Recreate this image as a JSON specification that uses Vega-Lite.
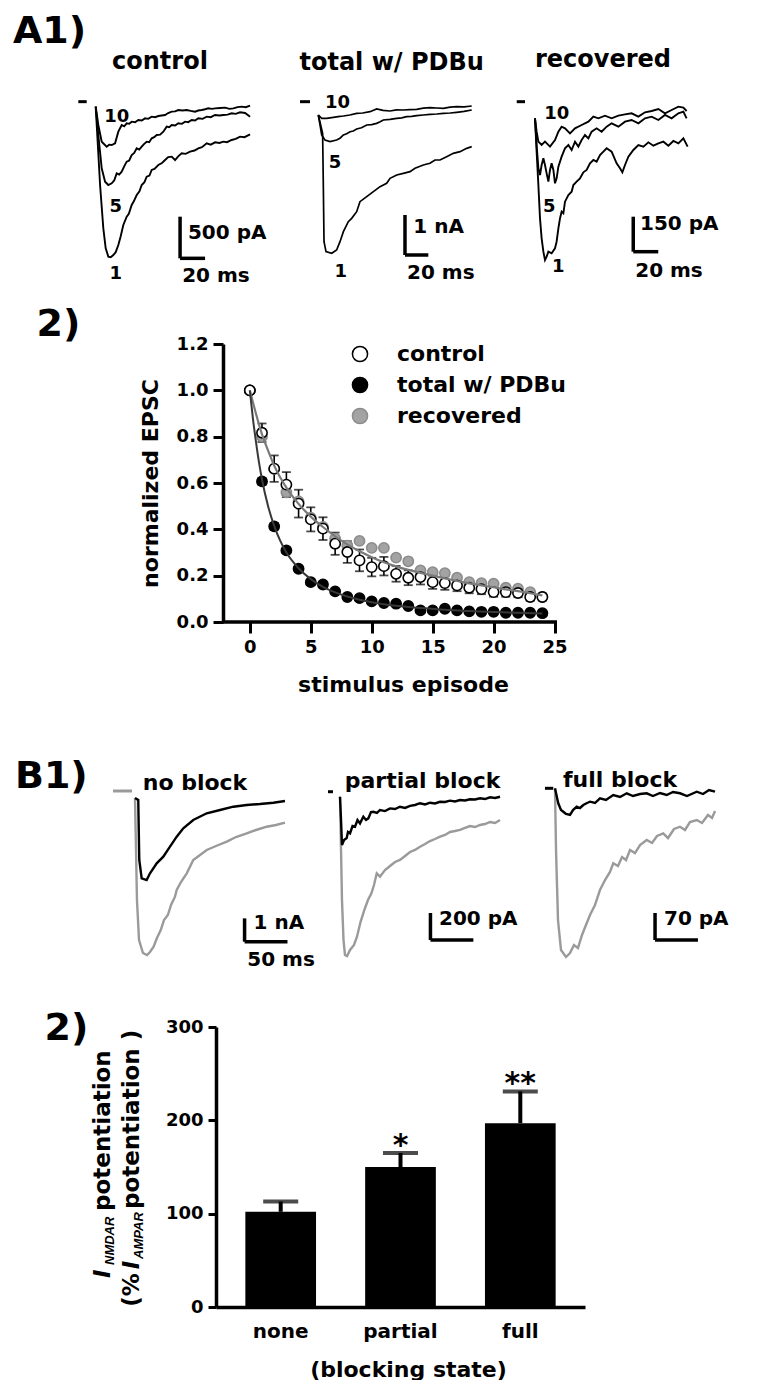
{
"$schema": "https://vega.github.io/schema/vega-lite/v6.json",
"padding": 0,
"background": "white",
"spacing": 0,
"bounds": "flush",
"align": "each",
"columns": 3,
"config": {
  "view": {"stroke": null},
  "font": "DejaVu Sans",
  "text": {"font": "DejaVu Sans", "fontWeight": "bold", "color": "black"},
  "axis": {"domainColor": "black", "domainWidth": 3.5, "tickColor": "black", "tickWidth": 3, "tickSize": 10, "grid": false,
           "labelFont": "DejaVu Sans", "labelFontWeight": "bold", "labelColor": "black", "labelFontSize": 18,
           "titleFont": "DejaVu Sans", "titleFontWeight": "bold", "titleColor": "black", "titleFontSize": 22}
},
"datasets": {
  "ctrl": [
    {"trace":"1","t":0,"I":-44},{"trace":"1","t":3.5,"I":-984},{"trace":"1","t":6.1,"I":-1504},{"trace":"1","t":8,"I":-1744},{"trace":"1","t":10.1,"I":-1844},{"trace":"1","t":12,"I":-1850},{"trace":"1","t":14.1,"I":-1824},{"trace":"1","t":16,"I":-1790},{"trace":"1","t":18.1,"I":-1704},{"trace":"1","t":20,"I":-1600},{"trace":"1","t":22.1,"I":-1464},{"trace":"1","t":24.8,"I":-1364},{"trace":"1","t":26.5,"I":-1330},{"trace":"1","t":28.8,"I":-1224},{"trace":"1","t":30.5,"I":-1180},{"trace":"1","t":32.8,"I":-1104},{"trace":"1","t":35,"I":-1060},{"trace":"1","t":36.8,"I":-984},{"trace":"1","t":39,"I":-950},{"trace":"1","t":40.8,"I":-884},{"trace":"1","t":43,"I":-870},{"trace":"1","t":44.8,"I":-804},{"trace":"1","t":47,"I":-790},{"trace":"1","t":50.1,"I":-744},{"trace":"1","t":53,"I":-720},{"trace":"1","t":55.5,"I":-684},{"trace":"1","t":58,"I":-650},{"trace":"1","t":60.8,"I":-644},{"trace":"1","t":63.5,"I":-684},{"trace":"1","t":66,"I":-640},{"trace":"1","t":68.8,"I":-604},{"trace":"1","t":72,"I":-610},{"trace":"1","t":75.5,"I":-584},{"trace":"1","t":79,"I":-570},{"trace":"1","t":82.1,"I":-544},{"trace":"1","t":85,"I":-530},{"trace":"1","t":88.8,"I":-484},{"trace":"1","t":92,"I":-500},{"trace":"1","t":95.5,"I":-472},{"trace":"1","t":99,"I":-480},{"trace":"1","t":102.1,"I":-464},{"trace":"1","t":105,"I":-470},{"trace":"1","t":108.8,"I":-444},{"trace":"1","t":112,"I":-430},{"trace":"1","t":115.5,"I":-404},{"trace":"1","t":119,"I":-410},{"trace":"1","t":123.5,"I":-376},
    {"trace":"5","t":0,"I":-44},{"trace":"5","t":2.1,"I":-384},{"trace":"5","t":4.8,"I":-784},{"trace":"5","t":7.5,"I":-944},{"trace":"5","t":10.1,"I":-984},{"trace":"5","t":12.8,"I":-964},{"trace":"5","t":14.8,"I":-930},{"trace":"5","t":16.8,"I":-844},{"trace":"5","t":18.8,"I":-860},{"trace":"5","t":20.8,"I":-824},{"trace":"5","t":22.8,"I":-760},{"trace":"5","t":24.8,"I":-704},{"trace":"5","t":26.8,"I":-690},{"trace":"5","t":28.8,"I":-624},{"trace":"5","t":30.8,"I":-600},{"trace":"5","t":32.8,"I":-544},{"trace":"5","t":34.8,"I":-560},{"trace":"5","t":36.8,"I":-524},{"trace":"5","t":38.8,"I":-490},{"trace":"5","t":40.8,"I":-464},{"trace":"5","t":42.8,"I":-470},{"trace":"5","t":44.8,"I":-424},{"trace":"5","t":46.8,"I":-410},{"trace":"5","t":48.8,"I":-384},{"trace":"5","t":51.5,"I":-380},{"trace":"5","t":54.1,"I":-344},{"trace":"5","t":56.8,"I":-284},{"trace":"5","t":58.8,"I":-290},{"trace":"5","t":60.8,"I":-264},{"trace":"5","t":63.5,"I":-270},{"trace":"5","t":66.1,"I":-244},{"trace":"5","t":69,"I":-250},{"trace":"5","t":71.5,"I":-224},{"trace":"5","t":74,"I":-230},{"trace":"5","t":76.8,"I":-204},{"trace":"5","t":79.5,"I":-210},{"trace":"5","t":82.1,"I":-184},{"trace":"5","t":85.5,"I":-190},{"trace":"5","t":88.8,"I":-164},{"trace":"5","t":92,"I":-170},{"trace":"5","t":95.5,"I":-144},{"trace":"5","t":99,"I":-150},{"trace":"5","t":102.1,"I":-144},{"trace":"5","t":105.5,"I":-140},{"trace":"5","t":108.8,"I":-124},{"trace":"5","t":112,"I":-130},{"trace":"5","t":115.5,"I":-112},{"trace":"5","t":119.5,"I":-120},{"trace":"5","t":123.5,"I":-164},
    {"trace":"10","t":0,"I":-44},{"trace":"10","t":2.1,"I":-264},{"trace":"10","t":4.8,"I":-464},{"trace":"10","t":8.8,"I":-524},{"trace":"10","t":10.8,"I":-500},{"trace":"10","t":12.8,"I":-504},{"trace":"10","t":15.5,"I":-484},{"trace":"10","t":18.1,"I":-344},{"trace":"10","t":20.8,"I":-264},{"trace":"10","t":22.8,"I":-280},{"trace":"10","t":24.8,"I":-244},{"trace":"10","t":26.8,"I":-250},{"trace":"10","t":28.8,"I":-224},{"trace":"10","t":31.5,"I":-230},{"trace":"10","t":34.1,"I":-204},{"trace":"10","t":36.8,"I":-210},{"trace":"10","t":39.5,"I":-184},{"trace":"10","t":42,"I":-190},{"trace":"10","t":44.8,"I":-164},{"trace":"10","t":47.5,"I":-170},{"trace":"10","t":50.1,"I":-156},{"trace":"10","t":52.8,"I":-150},{"trace":"10","t":55.5,"I":-144},{"trace":"10","t":58,"I":-120},{"trace":"10","t":60.8,"I":-104},{"trace":"10","t":63.5,"I":-100},{"trace":"10","t":66.1,"I":-84},{"trace":"10","t":69.5,"I":-90},{"trace":"10","t":72.8,"I":-84},{"trace":"10","t":76,"I":-95},{"trace":"10","t":79.5,"I":-104},{"trace":"10","t":82,"I":-90},{"trace":"10","t":84.8,"I":-84},{"trace":"10","t":87.5,"I":-75},{"trace":"10","t":90.1,"I":-64},{"trace":"10","t":93,"I":-70},{"trace":"10","t":95.5,"I":-64},{"trace":"10","t":99.5,"I":-60},{"trace":"10","t":103.5,"I":-56},{"trace":"10","t":107,"I":-70},{"trace":"10","t":110.1,"I":-64},{"trace":"10","t":113.5,"I":-50},{"trace":"10","t":116.8,"I":-44},{"trace":"10","t":120,"I":-50},{"trace":"10","t":123.5,"I":-32}
  ],
  "pdbu": [
    {"trace":"10","t":0,"I":-300},{"trace":"10","t":2.9,"I":-383},{"trace":"10","t":7.2,"I":-383},{"trace":"10","t":12.9,"I":-358},{"trace":"10","t":17,"I":-340},{"trace":"10","t":21.5,"I":-325},{"trace":"10","t":27,"I":-300},{"trace":"10","t":32.9,"I":-258},{"trace":"10","t":38,"I":-250},{"trace":"10","t":44.3,"I":-217},{"trace":"10","t":50,"I":-150},{"trace":"10","t":55.5,"I":-185},{"trace":"10","t":61.5,"I":-200},{"trace":"10","t":67,"I":-170},{"trace":"10","t":72.9,"I":-175},{"trace":"10","t":78.5,"I":-165},{"trace":"10","t":84.3,"I":-158},{"trace":"10","t":90,"I":-130},{"trace":"10","t":95.7,"I":-117},{"trace":"10","t":101.5,"I":-125},{"trace":"10","t":107.2,"I":-133},{"trace":"10","t":113,"I":-105},{"trace":"10","t":118.6,"I":-92},{"trace":"10","t":125,"I":-95},{"trace":"10","t":131.5,"I":-75},
    {"trace":"5","t":0,"I":-300},{"trace":"5","t":1.5,"I":-550},{"trace":"5","t":2.9,"I":-800},{"trace":"5","t":5.7,"I":-925},{"trace":"5","t":10,"I":-967},{"trace":"5","t":15.7,"I":-925},{"trace":"5","t":18.6,"I":-880},{"trace":"5","t":21.5,"I":-800},{"trace":"5","t":24.3,"I":-770},{"trace":"5","t":27.2,"I":-717},{"trace":"5","t":30,"I":-700},{"trace":"5","t":32.9,"I":-650},{"trace":"5","t":37,"I":-620},{"trace":"5","t":41.5,"I":-550},{"trace":"5","t":45.7,"I":-540},{"trace":"5","t":50,"I":-508},{"trace":"5","t":53,"I":-470},{"trace":"5","t":55.7,"I":-425},{"trace":"5","t":61.5,"I":-410},{"trace":"5","t":67.2,"I":-383},{"trace":"5","t":71.5,"I":-370},{"trace":"5","t":75.7,"I":-342},{"trace":"5","t":80,"I":-335},{"trace":"5","t":84.3,"I":-317},{"trace":"5","t":90,"I":-300},{"trace":"5","t":95.7,"I":-283},{"trace":"5","t":101.5,"I":-275},{"trace":"5","t":107.2,"I":-258},{"trace":"5","t":113,"I":-250},{"trace":"5","t":118.6,"I":-233},{"trace":"5","t":125,"I":-210},{"trace":"5","t":131.5,"I":-175},
    {"trace":"1","t":0,"I":-300},{"trace":"1","t":3.7,"I":-758},{"trace":"1","t":4.3,"I":-2050},{"trace":"1","t":4.9,"I":-3467},{"trace":"1","t":6.6,"I":-3717},{"trace":"1","t":11.5,"I":-3758},{"trace":"1","t":15.7,"I":-3675},{"trace":"1","t":18.6,"I":-3467},{"trace":"1","t":21.5,"I":-3217},{"trace":"1","t":25.7,"I":-2967},{"trace":"1","t":28.6,"I":-2883},{"trace":"1","t":32.9,"I":-2717},{"trace":"1","t":35.7,"I":-2467},{"trace":"1","t":41.5,"I":-2342},{"trace":"1","t":47.2,"I":-2217},{"trace":"1","t":52.9,"I":-2092},{"trace":"1","t":58.6,"I":-2008},{"trace":"1","t":61.5,"I":-1883},{"trace":"1","t":67.2,"I":-1800},{"trace":"1","t":72.9,"I":-1758},{"trace":"1","t":78.6,"I":-1717},{"trace":"1","t":82.9,"I":-1633},{"trace":"1","t":90,"I":-1550},{"trace":"1","t":95.7,"I":-1508},{"trace":"1","t":100,"I":-1425},{"trace":"1","t":104.3,"I":-1425},{"trace":"1","t":110,"I":-1342},{"trace":"1","t":115.7,"I":-1258},{"trace":"1","t":121.5,"I":-1217},{"trace":"1","t":127.2,"I":-1133},{"trace":"1","t":131.5,"I":-1092}
  ],
  "recov": [
    {"trace":"1","t":0,"I":-65.7},{"trace":"1","t":1.3,"I":-208.6},{"trace":"1","t":2.7,"I":-351.4},{"trace":"1","t":4,"I":-494.3},{"trace":"1","t":5.3,"I":-580},{"trace":"1","t":6.7,"I":-637.1},{"trace":"1","t":8,"I":-672.9},{"trace":"1","t":9.3,"I":-658.6},{"trace":"1","t":10.7,"I":-637.1},{"trace":"1","t":13.3,"I":-644.3},{"trace":"1","t":16,"I":-622.9},{"trace":"1","t":17.3,"I":-594.3},{"trace":"1","t":18.7,"I":-537.1},{"trace":"1","t":20,"I":-494.3},{"trace":"1","t":21.3,"I":-465.7},{"trace":"1","t":22.7,"I":-472.9},{"trace":"1","t":24,"I":-422.9},{"trace":"1","t":26.7,"I":-394.3},{"trace":"1","t":29.3,"I":-380},{"trace":"1","t":30.7,"I":-351.4},{"trace":"1","t":33.3,"I":-337.1},{"trace":"1","t":36,"I":-322.9},{"trace":"1","t":38.7,"I":-297.1},{"trace":"1","t":41.3,"I":-287.1},{"trace":"1","t":44,"I":-258.6},{"trace":"1","t":46.7,"I":-244.3},{"trace":"1","t":49.3,"I":-251.4},{"trace":"1","t":52,"I":-222.9},{"trace":"1","t":54.7,"I":-208.6},{"trace":"1","t":57.3,"I":-194.3},{"trace":"1","t":61.3,"I":-208.6},{"trace":"1","t":65.3,"I":-258.6},{"trace":"1","t":68,"I":-280},{"trace":"1","t":69.9,"I":-297.1},{"trace":"1","t":72,"I":-265.7},{"trace":"1","t":74.7,"I":-230},{"trace":"1","t":78.7,"I":-201.4},{"trace":"1","t":82.7,"I":-180},{"trace":"1","t":86.7,"I":-187.1},{"trace":"1","t":90.7,"I":-168.6},{"trace":"1","t":94.7,"I":-182.9},{"trace":"1","t":98.7,"I":-172.9},{"trace":"1","t":102.7,"I":-165.7},{"trace":"1","t":106.7,"I":-182.9},{"trace":"1","t":110.7,"I":-162.9},{"trace":"1","t":114.7,"I":-172.9},{"trace":"1","t":118.7,"I":-151.4},{"trace":"1","t":122.1,"I":-187.1},
    {"trace":"5","t":0,"I":-65.7},{"trace":"5","t":1.3,"I":-180},{"trace":"5","t":2.7,"I":-280},{"trace":"5","t":4,"I":-308.6},{"trace":"5","t":5.3,"I":-265.7},{"trace":"5","t":6.7,"I":-237.1},{"trace":"5","t":8,"I":-265.7},{"trace":"5","t":9.3,"I":-301.4},{"trace":"5","t":10.7,"I":-337.1},{"trace":"5","t":12,"I":-287.1},{"trace":"5","t":13.3,"I":-258.6},{"trace":"5","t":14.7,"I":-287.1},{"trace":"5","t":16,"I":-344.3},{"trace":"5","t":17.3,"I":-322.9},{"trace":"5","t":18.7,"I":-272.9},{"trace":"5","t":21.3,"I":-230},{"trace":"5","t":24,"I":-194.3},{"trace":"5","t":26.7,"I":-180},{"trace":"5","t":29.3,"I":-201.4},{"trace":"5","t":32,"I":-165.7},{"trace":"5","t":34.7,"I":-187.1},{"trace":"5","t":37.3,"I":-158.6},{"trace":"5","t":40,"I":-137.1},{"trace":"5","t":42.7,"I":-151.4},{"trace":"5","t":45.3,"I":-122.9},{"trace":"5","t":49.3,"I":-108.6},{"trace":"5","t":53.3,"I":-122.9},{"trace":"5","t":57.3,"I":-101.4},{"trace":"5","t":61.3,"I":-87.1},{"trace":"5","t":66.7,"I":-101.4},{"trace":"5","t":72,"I":-80},{"trace":"5","t":77.3,"I":-72.9},{"trace":"5","t":82.7,"I":-87.1},{"trace":"5","t":88,"I":-65.7},{"trace":"5","t":93.3,"I":-58.6},{"trace":"5","t":98.7,"I":-72.9},{"trace":"5","t":104,"I":-51.4},{"trace":"5","t":109.3,"I":-65.7},{"trace":"5","t":114.7,"I":-44.3},{"trace":"5","t":118.7,"I":-37.1},{"trace":"5","t":121.3,"I":-65.7},
    {"trace":"10","t":0,"I":-65.7},{"trace":"10","t":1.3,"I":-122.9},{"trace":"10","t":2.7,"I":-165.7},{"trace":"10","t":5.3,"I":-180},{"trace":"10","t":8,"I":-165.7},{"trace":"10","t":12,"I":-187.1},{"trace":"10","t":16,"I":-158.6},{"trace":"10","t":18.7,"I":-122.9},{"trace":"10","t":21.3,"I":-101.4},{"trace":"10","t":24,"I":-108.6},{"trace":"10","t":28,"I":-130},{"trace":"10","t":32,"I":-108.6},{"trace":"10","t":37.3,"I":-94.3},{"trace":"10","t":42.7,"I":-80},{"trace":"10","t":46.7,"I":-58.6},{"trace":"10","t":50.7,"I":-65.7},{"trace":"10","t":56,"I":-54.3},{"trace":"10","t":61.3,"I":-65.7},{"trace":"10","t":66.7,"I":-54.3},{"trace":"10","t":72,"I":-48.6},{"trace":"10","t":77.3,"I":-44.3},{"trace":"10","t":82.7,"I":-58.6},{"trace":"10","t":88,"I":-40},{"trace":"10","t":93.3,"I":-34.3},{"trace":"10","t":98.7,"I":-25.7},{"trace":"10","t":104,"I":-44.3},{"trace":"10","t":109.3,"I":-30},{"trace":"10","t":114.7,"I":-15.7},{"trace":"10","t":118.7,"I":-20},{"trace":"10","t":121.3,"I":-34.3}
  ],
  "nob": [
    {"sweep":"1","t":0,"I":-129},{"sweep":"1","t":1.2,"I":-2360},{"sweep":"1","t":2.3,"I":-4505},{"sweep":"1","t":4.7,"I":-6221},{"sweep":"1","t":9.3,"I":-6778},{"sweep":"1","t":14,"I":-6864},{"sweep":"1","t":17.5,"I":-6735},{"sweep":"1","t":21.7,"I":-6508},{"sweep":"1","t":25.6,"I":-6135},{"sweep":"1","t":30,"I":-5792},{"sweep":"1","t":33.8,"I":-5363},{"sweep":"1","t":38.3,"I":-5148},{"sweep":"1","t":42,"I":-4719},{"sweep":"1","t":46.6,"I":-4363},{"sweep":"1","t":48.6,"I":-4076},{"sweep":"1","t":53.6,"I":-3732},{"sweep":"1","t":60.3,"I":-3359},{"sweep":"1","t":67.9,"I":-2789},{"sweep":"1","t":75.8,"I":-2574},{"sweep":"1","t":83.6,"I":-2360},{"sweep":"1","t":94.4,"I":-2188},{"sweep":"1","t":106.9,"I":-2003},{"sweep":"1","t":117.7,"I":-1802},{"sweep":"1","t":130.2,"I":-1643},{"sweep":"1","t":141,"I":-1502},{"sweep":"1","t":153.5,"I":-1360},{"sweep":"1","t":164.3,"I":-1287},{"sweep":"1","t":174.8,"I":-1188},
    {"sweep":"2","t":0,"I":-129},{"sweep":"2","t":3.8,"I":-215},{"sweep":"2","t":5,"I":-2789},{"sweep":"2","t":7.8,"I":-3574},{"sweep":"2","t":13.6,"I":-3647},{"sweep":"2","t":17.5,"I":-3359},{"sweep":"2","t":25.3,"I":-2930},{"sweep":"2","t":33,"I":-2647},{"sweep":"2","t":40.8,"I":-2218},{"sweep":"2","t":48.6,"I":-1789},{"sweep":"2","t":56.3,"I":-1429},{"sweep":"2","t":67.9,"I":-1073},{"sweep":"2","t":83.6,"I":-785},{"sweep":"2","t":99.1,"I":-644},{"sweep":"2","t":114.6,"I":-502},{"sweep":"2","t":130.2,"I":-429},{"sweep":"2","t":145.7,"I":-386},{"sweep":"2","t":161.2,"I":-330},{"sweep":"2","t":174.8,"I":-257}
  ],
  "par": [
    {"sweep":"1","t":0,"I":-12.6},{"sweep":"1","t":1.2,"I":-407},{"sweep":"1","t":2.3,"I":-778},{"sweep":"1","t":4.1,"I":-1074},{"sweep":"1","t":5.8,"I":-1185},{"sweep":"1","t":8.2,"I":-1193},{"sweep":"1","t":11.7,"I":-1148},{"sweep":"1","t":16.3,"I":-1111},{"sweep":"1","t":19.8,"I":-1050},{"sweep":"1","t":23.9,"I":-941},{"sweep":"1","t":28.3,"I":-852},{"sweep":"1","t":32.6,"I":-778},{"sweep":"1","t":36.6,"I":-728},{"sweep":"1","t":39.6,"I":-667},{"sweep":"1","t":42.8,"I":-580},{"sweep":"1","t":46.6,"I":-605},{"sweep":"1","t":52.4,"I":-556},{"sweep":"1","t":58.3,"I":-526},{"sweep":"1","t":64.1,"I":-496},{"sweep":"1","t":69.9,"I":-481},{"sweep":"1","t":75.8,"I":-452},{"sweep":"1","t":81.6,"I":-422},{"sweep":"1","t":87.4,"I":-407},{"sweep":"1","t":93.2,"I":-383},{"sweep":"1","t":99.1,"I":-363},{"sweep":"1","t":104.9,"I":-341},{"sweep":"1","t":110.7,"I":-326},{"sweep":"1","t":116.6,"I":-309},{"sweep":"1","t":122.4,"I":-296},{"sweep":"1","t":128.2,"I":-274},{"sweep":"1","t":134,"I":-267},{"sweep":"1","t":139.9,"I":-259},{"sweep":"1","t":145.7,"I":-244},{"sweep":"1","t":151.5,"I":-230},{"sweep":"1","t":157.3,"I":-237},{"sweep":"1","t":163.2,"I":-222},{"sweep":"1","t":169,"I":-215},{"sweep":"1","t":174.8,"I":-200},{"sweep":"1","t":180.7,"I":-207},{"sweep":"1","t":186.5,"I":-185},
    {"sweep":"2","t":0,"I":-12.6},{"sweep":"2","t":1.2,"I":-185},{"sweep":"2","t":2.3,"I":-370},{"sweep":"2","t":4.7,"I":-333},{"sweep":"2","t":7.8,"I":-319},{"sweep":"2","t":9.3,"I":-274},{"sweep":"2","t":11.7,"I":-284},{"sweep":"2","t":14.6,"I":-230},{"sweep":"2","t":17.5,"I":-235},{"sweep":"2","t":20.4,"I":-185},{"sweep":"2","t":23.3,"I":-210},{"sweep":"2","t":27.2,"I":-161},{"sweep":"2","t":30.3,"I":-185},{"sweep":"2","t":33,"I":-173},{"sweep":"2","t":36.1,"I":-126},{"sweep":"2","t":38.8,"I":-124},{"sweep":"2","t":43.1,"I":-133},{"sweep":"2","t":46.6,"I":-111},{"sweep":"2","t":52.4,"I":-119},{"sweep":"2","t":58.3,"I":-99},{"sweep":"2","t":64.1,"I":-104},{"sweep":"2","t":69.9,"I":-87},{"sweep":"2","t":75.8,"I":-96},{"sweep":"2","t":81.6,"I":-81},{"sweep":"2","t":87.4,"I":-74},{"sweep":"2","t":93.2,"I":-61},{"sweep":"2","t":99.1,"I":-70},{"sweep":"2","t":104.9,"I":-57},{"sweep":"2","t":110.7,"I":-63},{"sweep":"2","t":116.6,"I":-50},{"sweep":"2","t":122.4,"I":-52},{"sweep":"2","t":128.2,"I":-42},{"sweep":"2","t":134,"I":-48},{"sweep":"2","t":139.9,"I":-37},{"sweep":"2","t":145.7,"I":-41},{"sweep":"2","t":151.5,"I":-32},{"sweep":"2","t":157.3,"I":-33},{"sweep":"2","t":163.2,"I":-24},{"sweep":"2","t":169,"I":-30},{"sweep":"2","t":174.8,"I":-17},{"sweep":"2","t":180.7,"I":-22},{"sweep":"2","t":186.5,"I":-13}
  ],
  "ful": [
    {"sweep":"1","t":0,"I":0},{"sweep":"1","t":1.2,"I":-158},{"sweep":"1","t":3.5,"I":-339.7},{"sweep":"1","t":7,"I":-417.5},{"sweep":"1","t":12.8,"I":-435.6},{"sweep":"1","t":17.5,"I":-425.3},{"sweep":"1","t":22.1,"I":-404.5},{"sweep":"1","t":26.8,"I":-412.3},{"sweep":"1","t":31.5,"I":-378.6},{"sweep":"1","t":36.1,"I":-352.6},{"sweep":"1","t":40.8,"I":-326.7},{"sweep":"1","t":46.6,"I":-300.8},{"sweep":"1","t":52.4,"I":-261.9},{"sweep":"1","t":58.3,"I":-236},{"sweep":"1","t":64.1,"I":-215.2},{"sweep":"1","t":67.9,"I":-192.7},{"sweep":"1","t":73.4,"I":-199.7},{"sweep":"1","t":78.1,"I":-176.3},{"sweep":"1","t":82.8,"I":-184.1},{"sweep":"1","t":87.4,"I":-158.2},{"sweep":"1","t":93.2,"I":-166},{"sweep":"1","t":99.1,"I":-145.2},{"sweep":"1","t":106.9,"I":-132.2},{"sweep":"1","t":113.1,"I":-140},{"sweep":"1","t":118.9,"I":-121.9},{"sweep":"1","t":126.2,"I":-114.9},{"sweep":"1","t":131.7,"I":-127.1},{"sweep":"1","t":138.7,"I":-103.7},{"sweep":"1","t":145.7,"I":-97.8},{"sweep":"1","t":151.5,"I":-106.3},{"sweep":"1","t":157.3,"I":-85.6},{"sweep":"1","t":165.2,"I":-80.4},{"sweep":"1","t":171.3,"I":-88.2},{"sweep":"1","t":178.3,"I":-67.4},{"sweep":"1","t":183,"I":-75.2},{"sweep":"1","t":186.5,"I":-57},
    {"sweep":"2","t":0,"I":1.8},{"sweep":"2","t":3.8,"I":-37.1},{"sweep":"2","t":7,"I":-54.5},{"sweep":"2","t":9.7,"I":-58.9},{"sweep":"2","t":12.8,"I":-64.8},{"sweep":"2","t":17.5,"I":-67.4},{"sweep":"2","t":21,"I":-54.5},{"sweep":"2","t":25.3,"I":-45.9},{"sweep":"2","t":29.1,"I":-49.3},{"sweep":"2","t":33,"I":-41.5},{"sweep":"2","t":37.3,"I":-36.3},{"sweep":"2","t":40.8,"I":-32.9},{"sweep":"2","t":46.6,"I":-36.3},{"sweep":"2","t":52.4,"I":-24.1},{"sweep":"2","t":59.4,"I":-28.5},{"sweep":"2","t":67.9,"I":-15.6},{"sweep":"2","t":75.8,"I":-20.7},{"sweep":"2","t":83.6,"I":-11.1},{"sweep":"2","t":90.9,"I":-18.2},{"sweep":"2","t":99.1,"I":-13},{"sweep":"2","t":106.9,"I":-11.1},{"sweep":"2","t":114.2,"I":-18.2},{"sweep":"2","t":122.4,"I":-10.4},{"sweep":"2","t":130.2,"I":-15.6},{"sweep":"2","t":137.5,"I":-7.8},{"sweep":"2","t":145.7,"I":-11.1},{"sweep":"2","t":153.8,"I":-18.2},{"sweep":"2","t":165.2,"I":-7},{"sweep":"2","t":172.5,"I":-13},{"sweep":"2","t":179.5,"I":-2.6},{"sweep":"2","t":186.5,"I":-7}
  ],
  "epsc": [
    {"series":"recovered","episode":0,"mean":1.0},{"series":"recovered","episode":1,"mean":0.80},{"series":"recovered","episode":2,"mean":0.66},{"series":"recovered","episode":3,"mean":0.56},{"series":"recovered","episode":4,"mean":0.52},{"series":"recovered","episode":5,"mean":0.45},{"series":"recovered","episode":6,"mean":0.41},{"series":"recovered","episode":7,"mean":0.36},{"series":"recovered","episode":8,"mean":0.33},{"series":"recovered","episode":9,"mean":0.35},{"series":"recovered","episode":10,"mean":0.32},{"series":"recovered","episode":11,"mean":0.32},{"series":"recovered","episode":12,"mean":0.278},{"series":"recovered","episode":13,"mean":0.262},{"series":"recovered","episode":14,"mean":0.223},{"series":"recovered","episode":15,"mean":0.215},{"series":"recovered","episode":16,"mean":0.211},{"series":"recovered","episode":17,"mean":0.191},{"series":"recovered","episode":18,"mean":0.172},{"series":"recovered","episode":19,"mean":0.168},{"series":"recovered","episode":20,"mean":0.165},{"series":"recovered","episode":21,"mean":0.148},{"series":"recovered","episode":22,"mean":0.144},{"series":"recovered","episode":23,"mean":0.129},{"series":"recovered","episode":24,"mean":0.108},
    {"series":"total w/ PDBu","episode":0,"mean":1.0},{"series":"total w/ PDBu","episode":1,"mean":0.607,"lo":0.592,"hi":0.622},{"series":"total w/ PDBu","episode":2,"mean":0.413,"lo":0.398,"hi":0.428},{"series":"total w/ PDBu","episode":3,"mean":0.309,"lo":0.296,"hi":0.322},{"series":"total w/ PDBu","episode":4,"mean":0.230,"lo":0.218,"hi":0.242},{"series":"total w/ PDBu","episode":5,"mean":0.172,"lo":0.162,"hi":0.182},{"series":"total w/ PDBu","episode":6,"mean":0.162,"lo":0.152,"hi":0.172},{"series":"total w/ PDBu","episode":7,"mean":0.132,"lo":0.124,"hi":0.140},{"series":"total w/ PDBu","episode":8,"mean":0.108,"lo":0.100,"hi":0.116},{"series":"total w/ PDBu","episode":9,"mean":0.103,"lo":0.096,"hi":0.110},{"series":"total w/ PDBu","episode":10,"mean":0.089,"lo":0.082,"hi":0.096},{"series":"total w/ PDBu","episode":11,"mean":0.082,"lo":0.076,"hi":0.088},{"series":"total w/ PDBu","episode":12,"mean":0.079,"lo":0.073,"hi":0.085},{"series":"total w/ PDBu","episode":13,"mean":0.069,"lo":0.064,"hi":0.074},{"series":"total w/ PDBu","episode":14,"mean":0.050,"lo":0.045,"hi":0.055},{"series":"total w/ PDBu","episode":15,"mean":0.050,"lo":0.046,"hi":0.054},{"series":"total w/ PDBu","episode":16,"mean":0.057,"lo":0.053,"hi":0.061},{"series":"total w/ PDBu","episode":17,"mean":0.050,"lo":0.046,"hi":0.054},{"series":"total w/ PDBu","episode":18,"mean":0.046,"lo":0.042,"hi":0.050},{"series":"total w/ PDBu","episode":19,"mean":0.044,"lo":0.040,"hi":0.048},{"series":"total w/ PDBu","episode":20,"mean":0.044,"lo":0.040,"hi":0.048},{"series":"total w/ PDBu","episode":21,"mean":0.040,"lo":0.036,"hi":0.044},{"series":"total w/ PDBu","episode":22,"mean":0.040,"lo":0.036,"hi":0.044},{"series":"total w/ PDBu","episode":23,"mean":0.040,"lo":0.036,"hi":0.044},{"series":"total w/ PDBu","episode":24,"mean":0.038,"lo":0.034,"hi":0.042},
    {"series":"control","episode":0,"mean":1.0},{"series":"control","episode":1,"mean":0.817,"lo":0.777,"hi":0.857},{"series":"control","episode":2,"mean":0.662,"lo":0.605,"hi":0.719},{"series":"control","episode":3,"mean":0.593,"lo":0.539,"hi":0.647},{"series":"control","episode":4,"mean":0.511,"lo":0.451,"hi":0.571},{"series":"control","episode":5,"mean":0.443,"lo":0.391,"hi":0.495},{"series":"control","episode":6,"mean":0.403,"lo":0.354,"hi":0.452},{"series":"control","episode":7,"mean":0.338,"lo":0.290,"hi":0.386},{"series":"control","episode":8,"mean":0.302,"lo":0.255,"hi":0.349},{"series":"control","episode":9,"mean":0.266,"lo":0.219,"hi":0.313},{"series":"control","episode":10,"mean":0.237,"lo":0.197,"hi":0.277},{"series":"control","episode":11,"mean":0.241,"lo":0.201,"hi":0.281},{"series":"control","episode":12,"mean":0.208,"lo":0.174,"hi":0.242},{"series":"control","episode":13,"mean":0.191,"lo":0.159,"hi":0.223},{"series":"control","episode":14,"mean":0.194,"lo":0.162,"hi":0.226},{"series":"control","episode":15,"mean":0.172,"lo":0.143,"hi":0.201},{"series":"control","episode":16,"mean":0.168,"lo":0.139,"hi":0.197},{"series":"control","episode":17,"mean":0.158,"lo":0.133,"hi":0.183},{"series":"control","episode":18,"mean":0.148,"lo":0.124,"hi":0.172},{"series":"control","episode":19,"mean":0.142,"lo":0.120,"hi":0.164},{"series":"control","episode":20,"mean":0.129,"lo":0.109,"hi":0.149},{"series":"control","episode":21,"mean":0.129,"lo":0.109,"hi":0.149},{"series":"control","episode":22,"mean":0.125,"lo":0.107,"hi":0.143},{"series":"control","episode":23,"mean":0.108,"lo":0.092,"hi":0.124},{"series":"control","episode":24,"mean":0.108,"lo":0.093,"hi":0.123}
  ],
  "fits": [
    {"fit":"control","episode":0,"value":1.0},{"fit":"control","episode":0.5,"value":0.9},{"fit":"control","episode":1,"value":0.81},{"fit":"control","episode":1.5,"value":0.74},{"fit":"control","episode":2,"value":0.675},{"fit":"control","episode":3,"value":0.58},{"fit":"control","episode":4,"value":0.51},{"fit":"control","episode":5,"value":0.455},{"fit":"control","episode":6,"value":0.41},{"fit":"control","episode":7,"value":0.37},{"fit":"control","episode":8,"value":0.335},{"fit":"control","episode":9,"value":0.305},{"fit":"control","episode":10,"value":0.28},{"fit":"control","episode":11,"value":0.258},{"fit":"control","episode":12,"value":0.24},{"fit":"control","episode":13,"value":0.225},{"fit":"control","episode":14,"value":0.212},{"fit":"control","episode":15,"value":0.2},{"fit":"control","episode":16,"value":0.188},{"fit":"control","episode":17,"value":0.177},{"fit":"control","episode":18,"value":0.167},{"fit":"control","episode":19,"value":0.158},{"fit":"control","episode":20,"value":0.15},{"fit":"control","episode":21,"value":0.141},{"fit":"control","episode":22,"value":0.133},{"fit":"control","episode":23,"value":0.124},{"fit":"control","episode":24,"value":0.115},
    {"fit":"pdbu","episode":0,"value":1.0},{"fit":"pdbu","episode":0.25,"value":0.88},{"fit":"pdbu","episode":0.5,"value":0.78},{"fit":"pdbu","episode":0.75,"value":0.69},{"fit":"pdbu","episode":1,"value":0.615},{"fit":"pdbu","episode":1.5,"value":0.5},{"fit":"pdbu","episode":2,"value":0.415},{"fit":"pdbu","episode":2.5,"value":0.35},{"fit":"pdbu","episode":3,"value":0.3},{"fit":"pdbu","episode":4,"value":0.232},{"fit":"pdbu","episode":5,"value":0.185},{"fit":"pdbu","episode":6,"value":0.152},{"fit":"pdbu","episode":7,"value":0.128},{"fit":"pdbu","episode":8,"value":0.11},{"fit":"pdbu","episode":9,"value":0.096},{"fit":"pdbu","episode":10,"value":0.085},{"fit":"pdbu","episode":11,"value":0.077},{"fit":"pdbu","episode":12,"value":0.07},{"fit":"pdbu","episode":14,"value":0.06},{"fit":"pdbu","episode":16,"value":0.053},{"fit":"pdbu","episode":18,"value":0.047},{"fit":"pdbu","episode":20,"value":0.043},{"fit":"pdbu","episode":22,"value":0.04},{"fit":"pdbu","episode":24,"value":0.037}
  ],
  "bars": [
    {"state":"none","mean":102,"hi":113,"sig":""},
    {"state":"partial","mean":150,"hi":165,"sig":"*"},
    {"state":"full","mean":197,"hi":231,"sig":"**"}
  ]
},
"concat": [
    {"width": 216, "height": 344,
     "layer": [
       {"data": {"name": "ctrl"}, "mark": {"type": "line", "color": "black", "strokeWidth": 1.9},
        "encoding": {"x": {"field": "t", "type": "quantitative", "scale": {"domain": [-76.56, 96.24], "nice": false, "zero": false}, "axis": null},
                     "y": {"field": "I", "type": "quantitative", "scale": {"domain": [-2892, 1236], "nice": false, "zero": false}, "axis": null},
                     "detail": {"field": "trace", "type": "nominal"}}},
       {"data": {"values": [{}]}, "mark": {"type": "rule", "color": "black", "strokeWidth": 3}, "encoding": {"x": {"datum": -13.9}, "x2": {"datum": -7.2}, "y": {"datum": 16}}},
       {"data": {"values": [{}]}, "mark": {"type": "rule", "color": "black", "strokeWidth": 3.5}, "encoding": {"x": {"datum": 67.5}, "y": {"datum": -1864}, "y2": {"datum": -1364}}},
       {"data": {"values": [{}]}, "mark": {"type": "rule", "color": "black", "strokeWidth": 3.5}, "encoding": {"x": {"datum": 67.5}, "x2": {"datum": 87.5}, "y": {"datum": -1864}}},
       {"data": {"values": [{}]}, "mark": {"type": "text", "text": "A1)", "fontSize": 38, "align": "left", "baseline": "alphabetic"}, "encoding": {"x": {"datum": -66.2}, "y": {"datum": 720}}},
       {"data": {"values": [{}]}, "mark": {"type": "text", "text": "control", "fontSize": 24, "align": "center", "baseline": "alphabetic"}, "encoding": {"x": {"datum": 51.4}, "y": {"datum": 408}}},
       {"data": {"values": [{}]}, "mark": {"type": "text", "text": "10", "fontSize": 18, "align": "center", "baseline": "middle"}, "encoding": {"x": {"datum": 16.8}, "y": {"datum": -172}}},
       {"data": {"values": [{}]}, "mark": {"type": "text", "text": "5", "fontSize": 18, "align": "center", "baseline": "middle"}, "encoding": {"x": {"datum": 16}, "y": {"datum": -1244}}},
       {"data": {"values": [{}]}, "mark": {"type": "text", "text": "1", "fontSize": 18, "align": "center", "baseline": "middle"}, "encoding": {"x": {"datum": 16}, "y": {"datum": -2052}}},
       {"data": {"values": [{}]}, "mark": {"type": "text", "text": "500 pA", "fontSize": 20, "align": "left", "baseline": "middle"}, "encoding": {"x": {"datum": 73.8}, "y": {"datum": -1560}}},
       {"data": {"values": [{}]}, "mark": {"type": "text", "text": "20 ms", "fontSize": 20, "align": "center", "baseline": "middle"}, "encoding": {"x": {"datum": 96.2}, "y": {"datum": -2076}}}
     ]},
    {"width": 369, "height": 344,
     "layer": [
       {"data": {"name": "pdbu"}, "mark": {"type": "line", "color": "black", "strokeWidth": 1.7},
        "encoding": {"x": {"field": "t", "type": "quantitative", "scale": {"domain": [-87.69, 228.6], "nice": false, "zero": false}, "axis": null},
                     "y": {"field": "I", "type": "quantitative", "scale": {"domain": [-6025, 2575], "nice": false, "zero": false}, "axis": null},
                     "detail": {"field": "trace", "type": "nominal"}}},
       {"data": {"values": [{}]}, "mark": {"type": "rule", "color": "black", "strokeWidth": 3}, "encoding": {"x": {"datum": -15.7}, "x2": {"datum": -7.1}, "y": {"datum": 33}}},
       {"data": {"values": [{}]}, "mark": {"type": "rule", "color": "black", "strokeWidth": 3.5}, "encoding": {"x": {"datum": 74.3}, "y": {"datum": -3800}, "y2": {"datum": -2800}}},
       {"data": {"values": [{}]}, "mark": {"type": "rule", "color": "black", "strokeWidth": 3.5}, "encoding": {"x": {"datum": 74.3}, "x2": {"datum": 94.3}, "y": {"datum": -3800}}},
       {"data": {"values": [{}]}, "mark": {"type": "text", "text": "total w/ PDBu", "fontSize": 24, "align": "center", "baseline": "alphabetic"}, "encoding": {"x": {"datum": 62.9}, "y": {"datum": 825}}},
       {"data": {"values": [{}]}, "mark": {"type": "text", "text": "10", "fontSize": 18, "align": "center", "baseline": "middle"}, "encoding": {"x": {"datum": 16.5}, "y": {"datum": -8}}},
       {"data": {"values": [{}]}, "mark": {"type": "text", "text": "5", "fontSize": 18, "align": "center", "baseline": "middle"}, "encoding": {"x": {"datum": 14.3}, "y": {"datum": -1508}}},
       {"data": {"values": [{}]}, "mark": {"type": "text", "text": "1", "fontSize": 18, "align": "center", "baseline": "middle"}, "encoding": {"x": {"datum": 19.3}, "y": {"datum": -4217}}},
       {"data": {"values": [{}]}, "mark": {"type": "text", "text": "1 nA", "fontSize": 20, "align": "left", "baseline": "middle"}, "encoding": {"x": {"datum": 81.4}, "y": {"datum": -3092}}},
       {"data": {"values": [{}]}, "mark": {"type": "text", "text": "20 ms", "fontSize": 20, "align": "center", "baseline": "middle"}, "encoding": {"x": {"datum": 105}, "y": {"datum": -4258}}}
     ]},
    {"width": 175, "height": 344,
     "layer": [
       {"data": {"name": "recov"}, "mark": {"type": "line", "color": "black", "strokeWidth": 1.9},
        "encoding": {"x": {"field": "t", "type": "quantitative", "scale": {"domain": [40, 180], "nice": false, "zero": false}, "axis": null},
                     "y": {"field": "I", "type": "quantitative", "scale": {"domain": [-1032.9, 441.4], "nice": false, "zero": false}, "axis": null},
                     "detail": {"field": "trace", "type": "nominal"}}},
       {"data": {"values": [{}]}, "mark": {"type": "rule", "color": "black", "strokeWidth": 3}, "encoding": {"x": {"datum": -14.6}, "x2": {"datum": -8}, "y": {"datum": 5.6}}},
       {"data": {"values": [{}]}, "mark": {"type": "rule", "color": "black", "strokeWidth": 3.5}, "encoding": {"x": {"datum": 78.6}, "y": {"datum": -637.3}, "y2": {"datum": -487.3}}},
       {"data": {"values": [{}]}, "mark": {"type": "rule", "color": "black", "strokeWidth": 3.5}, "encoding": {"x": {"datum": 78.6}, "x2": {"datum": 98.6}, "y": {"datum": -637.3}}},
       {"data": {"values": [{}]}, "mark": {"type": "text", "text": "recovered", "fontSize": 24, "align": "center", "baseline": "alphabetic"}, "encoding": {"x": {"datum": 54.4}, "y": {"datum": 154.3}}},
       {"data": {"values": [{}]}, "mark": {"type": "text", "text": "10", "fontSize": 18, "align": "center", "baseline": "middle"}, "encoding": {"x": {"datum": 17.4}, "y": {"datum": -48.4}}},
       {"data": {"values": [{}]}, "mark": {"type": "text", "text": "5", "fontSize": 18, "align": "center", "baseline": "middle"}, "encoding": {"x": {"datum": 11.4}, "y": {"datum": -444.4}}},
       {"data": {"values": [{}]}, "mark": {"type": "text", "text": "1", "fontSize": 18, "align": "center", "baseline": "middle"}, "encoding": {"x": {"datum": 18.6}, "y": {"datum": -701.6}}},
       {"data": {"values": [{}]}, "mark": {"type": "text", "text": "150 pA", "fontSize": 20, "align": "left", "baseline": "middle"}, "encoding": {"x": {"datum": 84}, "y": {"datum": -518.6}}},
       {"data": {"values": [{}]}, "mark": {"type": "text", "text": "20 ms", "fontSize": 20, "align": "center", "baseline": "middle"}, "encoding": {"x": {"datum": 107.2}, "y": {"datum": -717.9}}}
     ]},
    {"width": 216, "height": 278, "data": {"values": [{}]}, "mark": {"type": "text", "text": ""}},
    {"width": 341, "height": 278,
     "layer": [
       {"data": {"name": "epsc"}, "transform": [{"filter": "isValid(datum.lo)"}],
        "mark": {"type": "rule", "color": "black", "strokeWidth": 1.6},
        "encoding": {"x": {"field": "episode", "type": "quantitative", "scale": {"domain": [-2.774, 25.2], "nice": false, "zero": false},
                           "axis": {"values": [0, 5, 10, 15, 20, 25], "title": "stimulus episode", "domain": false, "tickSize": 11, "labelPadding": 5, "titlePadding": 18, "titleX": 187}},
                     "y": {"field": "lo", "type": "quantitative", "scale": {"domain": [0, 1.2], "nice": false},
                           "axis": {"values": [0, 0.2, 0.4, 0.6, 0.8, 1.0, 1.2], "format": ".1f", "title": "normalized EPSC", "offset": -7, "labelPadding": 5, "titlePadding": 14}},
                     "y2": {"field": "hi"}}},
       {"data": {"name": "epsc"}, "transform": [{"filter": "isValid(datum.lo)"}],
        "mark": {"type": "tick", "color": "black", "thickness": 1.8, "size": 9, "orient": "horizontal"},
        "encoding": {"x": {"field": "episode", "type": "quantitative"}, "y": {"field": "hi", "type": "quantitative"}}},
       {"data": {"name": "epsc"}, "transform": [{"filter": "isValid(datum.lo)"}],
        "mark": {"type": "tick", "color": "black", "thickness": 1.8, "size": 9, "orient": "horizontal"},
        "encoding": {"x": {"field": "episode", "type": "quantitative"}, "y": {"field": "lo", "type": "quantitative"}}},
       {"data": {"name": "epsc"},
        "mark": {"type": "circle", "size": 105, "strokeWidth": 1.6, "opacity": 1},
        "encoding": {"x": {"field": "episode", "type": "quantitative"},
                     "y": {"field": "mean", "type": "quantitative"},
                     "fill": {"field": "series", "type": "nominal", "scale": {"domain": ["control", "total w/ PDBu", "recovered"], "range": ["white", "black", "#a3a3a3"]},
                              "legend": {"title": null, "orient": "none", "legendX": 349, "legendY": 343, "labelFontSize": 22, "labelFont": "DejaVu Sans", "labelFontWeight": "bold", "labelColor": "black", "labelLimit": 0, "symbolSize": 230, "symbolStrokeWidth": 1.5, "symbolType": "circle", "labelOffset": 26, "rowPadding": 9}},
                     "stroke": {"field": "series", "type": "nominal", "scale": {"domain": ["control", "total w/ PDBu", "recovered"], "range": ["black", "black", "#8c8c8c"]},
                              "legend": {"title": null, "orient": "none", "legendX": 349, "legendY": 343, "labelFontSize": 22, "labelFont": "DejaVu Sans", "labelFontWeight": "bold", "labelColor": "black", "labelLimit": 0, "symbolSize": 230, "symbolStrokeWidth": 1.5, "symbolType": "circle", "labelOffset": 26, "rowPadding": 9}}}},
       {"data": {"name": "fits"}, "transform": [{"filter": "datum.fit === 'control'"}],
        "mark": {"type": "line", "color": "#7a7a7a", "strokeWidth": 2.2, "interpolate": "monotone"},
        "encoding": {"x": {"field": "episode", "type": "quantitative"}, "y": {"field": "value", "type": "quantitative"}}},
       {"data": {"name": "fits"}, "transform": [{"filter": "datum.fit === 'pdbu'"}],
        "mark": {"type": "line", "color": "#383838", "strokeWidth": 2, "interpolate": "monotone"},
        "encoding": {"x": {"field": "episode", "type": "quantitative"}, "y": {"field": "value", "type": "quantitative"}}},
       {"data": {"values": [{}]}, "mark": {"type": "rule", "color": "black", "strokeWidth": 3.5}, "encoding": {"x": {"datum": -2.2}, "x2": {"datum": 25.2}, "y": {"datum": 0}}},
       {"data": {"values": [{}]}, "mark": {"type": "text", "text": "2)", "fontSize": 38, "align": "left", "baseline": "alphabetic"}, "encoding": {"x": {"datum": -17.5}, "y": {"datum": 1.234}}}
     ]},
    {"width": 203, "height": 278, "data": {"values": [{}]}, "mark": {"type": "text", "text": ""}},
    {"width": 216, "height": 405,
     "layer": [
       {"data": {"name": "nob"}, "transform": [{"filter": "datum.sweep === '1'"}], "mark": {"type": "line", "color": "#9a9a9a", "strokeWidth": 2.4},
        "encoding": {"x": {"field": "t", "type": "quantitative", "scale": {"domain": [-157.3, 94.4], "nice": false, "zero": false}, "axis": null},
                     "y": {"field": "I", "type": "quantitative", "scale": {"domain": [-9953, 7422], "nice": false, "zero": false}, "axis": null}}},
       {"data": {"name": "nob"}, "transform": [{"filter": "datum.sweep === '2'"}], "mark": {"type": "line", "color": "black", "strokeWidth": 2.4},
        "encoding": {"x": {"field": "t", "type": "quantitative"}, "y": {"field": "I", "type": "quantitative"}}},
       {"data": {"values": [{}]}, "mark": {"type": "rule", "color": "#9a9a9a", "strokeWidth": 3}, "encoding": {"x": {"datum": -25.6}, "x2": {"datum": -3.5}, "y": {"datum": 172}}},
       {"data": {"values": [{}]}, "mark": {"type": "rule", "color": "black", "strokeWidth": 3.5}, "encoding": {"x": {"datum": 127.7}, "y": {"datum": -6293}, "y2": {"datum": -5293}}},
       {"data": {"values": [{}]}, "mark": {"type": "rule", "color": "black", "strokeWidth": 3.5}, "encoding": {"x": {"datum": 127.7}, "x2": {"datum": 177.7}, "y": {"datum": -6293}}},
       {"data": {"values": [{}]}, "mark": {"type": "text", "text": "B1)", "fontSize": 38, "align": "left", "baseline": "alphabetic"}, "encoding": {"x": {"datum": -139.9}, "y": {"datum": 300}}},
       {"data": {"values": [{}]}, "mark": {"type": "text", "text": "no block", "fontSize": 22, "align": "center", "baseline": "alphabetic"}, "encoding": {"x": {"datum": 69.9}, "y": {"datum": 214.5}}},
       {"data": {"values": [{}]}, "mark": {"type": "text", "text": "1 nA", "fontSize": 20, "align": "left", "baseline": "middle"}, "encoding": {"x": {"datum": 138.2}, "y": {"datum": -5470}}},
       {"data": {"values": [{}]}, "mark": {"type": "text", "text": "50 ms", "fontSize": 20, "align": "center", "baseline": "middle"}, "encoding": {"x": {"datum": 170.2}, "y": {"datum": -7079}}}
     ]},
    {"width": 369, "height": 405,
     "layer": [
       {"data": {"name": "par"}, "transform": [{"filter": "datum.sweep === '1'"}], "mark": {"type": "line", "color": "#9a9a9a", "strokeWidth": 2.4},
        "encoding": {"x": {"field": "t", "type": "quantitative", "scale": {"domain": [-144.5, 285.5], "nice": false, "zero": false}, "axis": null},
                     "y": {"field": "I", "type": "quantitative", "scale": {"domain": [-1718.5, 1281.5], "nice": false, "zero": false}, "axis": null}}},
       {"data": {"name": "par"}, "transform": [{"filter": "datum.sweep === '2'"}], "mark": {"type": "line", "color": "black", "strokeWidth": 2.4},
        "encoding": {"x": {"field": "t", "type": "quantitative"}, "y": {"field": "I", "type": "quantitative"}}},
       {"data": {"values": [{}]}, "mark": {"type": "rule", "color": "black", "strokeWidth": 3}, "encoding": {"x": {"datum": -14}, "x2": {"datum": -8.2}, "y": {"datum": 24.4}}},
       {"data": {"values": [{}]}, "mark": {"type": "rule", "color": "black", "strokeWidth": 3.5}, "encoding": {"x": {"datum": 105.4}, "y": {"datum": -1074}, "y2": {"datum": -874}}},
       {"data": {"values": [{}]}, "mark": {"type": "rule", "color": "black", "strokeWidth": 3.5}, "encoding": {"x": {"datum": 105.4}, "x2": {"datum": 155.4}, "y": {"datum": -1074}}},
       {"data": {"values": [{}]}, "mark": {"type": "text", "text": "partial block", "fontSize": 22, "align": "center", "baseline": "alphabetic"}, "encoding": {"x": {"datum": 96.2}, "y": {"datum": 49.6}}},
       {"data": {"values": [{}]}, "mark": {"type": "text", "text": "200 pA", "fontSize": 20, "align": "left", "baseline": "middle"}, "encoding": {"x": {"datum": 115.4}, "y": {"datum": -918.5}}}
     ]},
    {"width": 175, "height": 405,
     "layer": [
       {"data": {"name": "ful"}, "transform": [{"filter": "datum.sweep === '1'"}], "mark": {"type": "line", "color": "#9a9a9a", "strokeWidth": 2.4},
        "encoding": {"x": {"field": "t", "type": "quantitative", "scale": {"domain": [34.97, 238.9], "nice": false, "zero": false}, "axis": null},
                     "y": {"field": "I", "type": "quantitative", "scale": {"domain": [-617.1, 433], "nice": false, "zero": false}, "axis": null}}},
       {"data": {"name": "ful"}, "transform": [{"filter": "datum.sweep === '2'"}], "mark": {"type": "line", "color": "black", "strokeWidth": 2.4},
        "encoding": {"x": {"field": "t", "type": "quantitative"}, "y": {"field": "I", "type": "quantitative"}}},
       {"data": {"values": [{}]}, "mark": {"type": "rule", "color": "black", "strokeWidth": 3}, "encoding": {"x": {"datum": -11.7}, "x2": {"datum": -2}, "y": {"datum": 1.8}}},
       {"data": {"values": [{}]}, "mark": {"type": "rule", "color": "black", "strokeWidth": 3.5}, "encoding": {"x": {"datum": 116.6}, "y": {"datum": -391.5}, "y2": {"datum": -321.5}}},
       {"data": {"values": [{}]}, "mark": {"type": "rule", "color": "black", "strokeWidth": 3.5}, "encoding": {"x": {"datum": 116.6}, "x2": {"datum": 166.6}, "y": {"datum": -391.5}}},
       {"data": {"values": [{}]}, "mark": {"type": "text", "text": "full block", "fontSize": 22, "align": "center", "baseline": "alphabetic"}, "encoding": {"x": {"datum": 75.8}, "y": {"datum": 6}}},
       {"data": {"values": [{}]}, "mark": {"type": "text", "text": "70 pA", "fontSize": 20, "align": "left", "baseline": "middle"}, "encoding": {"x": {"datum": 127}, "y": {"datum": -337}}}
     ]},
    {"width": 216, "height": 280,
     "layer": [
       {"data": {"values": [{}]}, "mark": {"type": "text", "text": "2)", "fontSize": 38, "align": "left", "baseline": "alphabetic"},
        "encoding": {"x": {"datum": 0.2065, "scale": {"domain": [0, 1], "nice": false}, "axis": null}, "y": {"datum": 286, "scale": {"domain": [0, 300], "nice": false}, "axis": null}}},
       {"data": {"values": [{}]}, "mark": {"type": "text", "text": "I", "fontSize": 23, "fontStyle": "italic", "angle": 270, "align": "left", "baseline": "middle"}, "encoding": {"x": {"datum": 0.475}, "y": {"datum": 31}}},
       {"data": {"values": [{}]}, "mark": {"type": "text", "text": "NMDAR", "font": "Liberation Sans", "fontSize": 13, "fontStyle": "italic", "angle": 270, "align": "left", "baseline": "middle"}, "encoding": {"x": {"datum": 0.51}, "y": {"datum": 45}}},
       {"data": {"values": [{}]}, "mark": {"type": "text", "text": "potentiation", "fontSize": 23, "angle": 270, "align": "left", "baseline": "middle"}, "encoding": {"x": {"datum": 0.475}, "y": {"datum": 102.9}}},
       {"data": {"values": [{}]}, "mark": {"type": "text", "text": "(%", "fontSize": 23, "angle": 270, "align": "left", "baseline": "middle"}, "encoding": {"x": {"datum": 0.611}, "y": {"datum": 0.3}}},
       {"data": {"values": [{}]}, "mark": {"type": "text", "text": "I", "fontSize": 23, "fontStyle": "italic", "angle": 270, "align": "left", "baseline": "middle"}, "encoding": {"x": {"datum": 0.611}, "y": {"datum": 40.5}}},
       {"data": {"values": [{}]}, "mark": {"type": "text", "text": "AMPAR", "font": "Liberation Sans", "fontSize": 13, "fontStyle": "italic", "angle": 270, "align": "left", "baseline": "middle"}, "encoding": {"x": {"datum": 0.645}, "y": {"datum": 51.5}}},
       {"data": {"values": [{}]}, "mark": {"type": "text", "text": "potentiation )", "fontSize": 23, "angle": 270, "align": "left", "baseline": "middle"}, "encoding": {"x": {"datum": 0.611}, "y": {"datum": 105}}}
     ]},
    {"width": 369, "height": 280,
     "data": {"name": "bars"},
     "encoding": {"x": {"field": "state", "type": "nominal", "sort": ["none", "partial", "full"], "scale": {"paddingInner": 0.41, "paddingOuter": 0.245},
                        "axis": {"title": "(blocking state)", "labelAngle": 0, "ticks": false, "labelFontSize": 20, "labelPadding": 14, "titleFontSize": 22, "titlePadding": 18, "titleX": 192}}},
     "layer": [
       {"mark": {"type": "bar", "color": "black"},
        "encoding": {"y": {"field": "mean", "type": "quantitative", "scale": {"domain": [0, 300], "nice": false}, "axis": {"values": [0, 100, 200, 300], "title": null, "tickSize": 8, "labelPadding": 5}}}},
       {"mark": {"type": "rule", "color": "black", "strokeWidth": 4},
        "encoding": {"y": {"field": "mean", "type": "quantitative"}, "y2": {"field": "hi"}}},
       {"mark": {"type": "tick", "color": "black", "thickness": 4, "size": 35, "orient": "horizontal"},
        "encoding": {"y": {"field": "hi", "type": "quantitative"}}},
       {"mark": {"type": "text", "fontSize": 30, "align": "center", "baseline": "alphabetic", "dy": 2},
        "encoding": {"y": {"field": "hi", "type": "quantitative"}, "text": {"field": "sig"}}}
     ]},
    {"width": 175, "height": 280, "data": {"values": [{}]}, "mark": {"type": "text", "text": ""}}
]
}
